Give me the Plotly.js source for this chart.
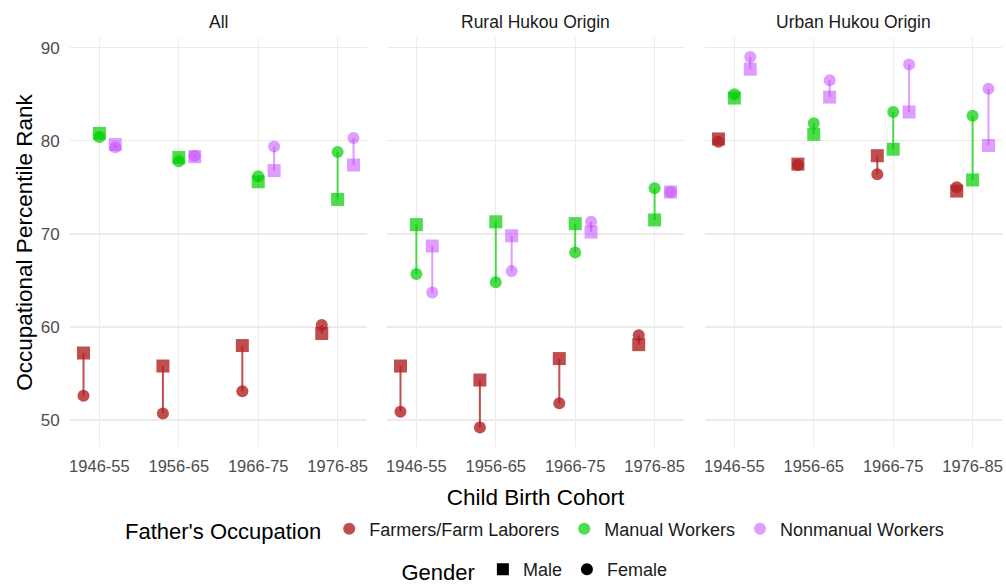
<!DOCTYPE html>
<html>
<head>
<meta charset="utf-8">
<script src="https://cdn.plot.ly/plotly-3.0.1.min.js"></script>
<style>html,body{margin:0;padding:0;background:#fff;}#chart{width:1006px;height:587px;}</style>
</head>
<body>
<div id="chart"></div>
<script>
const cohorts = ['1946-55', '1956-65', '1966-75', '1976-85'];
const panels = ['All', 'Rural Hukou Origin', 'Urban Hukou Origin'];
const occupations = ['Farmers/Farm Laborers', 'Manual Workers', 'Nonmanual Workers'];
const genders = ['Male', 'Female'];

// All
const allFarmersMale      = [57.2, 55.8, 58.0, 59.3];
const allFarmersFemale    = [52.6, 50.7, 53.1, 60.2];
const allManualMale       = [80.8, 78.2, 75.6, 73.7];
const allManualFemale     = [80.4, 77.8, 76.2, 78.8];
const allNonmanualMale    = [79.6, 78.3, 76.8, 77.4];
const allNonmanualFemale  = [79.3, 78.4, 79.4, 80.3];
// Rural Hukou Origin
const ruralFarmersMale     = [55.8, 54.3, 56.6, 58.1];
const ruralFarmersFemale   = [50.9, 49.2, 51.8, 59.1];
const ruralManualMale      = [71.0, 71.3, 71.1, 71.5];
const ruralManualFemale    = [65.7, 64.8, 68.0, 74.9];
const ruralNonmanualMale   = [68.7, 69.8, 70.2, 74.5];
const ruralNonmanualFemale = [63.7, 66.0, 71.3, 74.5];
// Urban Hukou Origin
const urbanFarmersMale     = [80.2, 77.5, 78.4, 74.6];
const urbanFarmersFemale   = [79.9, 77.4, 76.4, 75.0];
const urbanManualMale      = [84.6, 80.7, 79.1, 75.8];
const urbanManualFemale    = [85.0, 81.9, 83.1, 82.7];
const urbanNonmanualMale   = [87.7, 84.7, 83.1, 79.5];
const urbanNonmanualFemale = [89.0, 86.5, 88.2, 85.6];

const panelData = [
  [[allFarmersMale, allFarmersFemale], [allManualMale, allManualFemale], [allNonmanualMale, allNonmanualFemale]],
  [[ruralFarmersMale, ruralFarmersFemale], [ruralManualMale, ruralManualFemale], [ruralNonmanualMale, ruralNonmanualFemale]],
  [[urbanFarmersMale, urbanFarmersFemale], [urbanManualMale, urbanManualFemale], [urbanNonmanualMale, urbanNonmanualFemale]]
];

const colors = ['rgba(178,34,34,0.8)', 'rgba(0,205,0,0.7)', 'rgba(191,62,255,0.5)'];
const dodge = [-0.2, 0, 0.2];
const suffix = ['', '2', '3'];

const traces = [];
panels.forEach((pn, p) => {
  const xa = 'x' + suffix[p], ya = 'y' + suffix[p];
  occupations.forEach((oc, o) => {
    const [male, female] = panelData[p][o];
    const xs = cohorts.map((c, i) => i + 1 + dodge[o]);
    traces.push({type: 'scatter', mode: 'markers', x: xs, y: male, xaxis: xa, yaxis: ya, showlegend: false,
      marker: {symbol: 'square', size: 13, color: colors[o], line: {width: 0}}, hoverinfo: 'skip'});
    traces.push({type: 'scatter', mode: 'markers', x: xs, y: female, xaxis: xa, yaxis: ya, showlegend: false,
      marker: {symbol: 'circle', size: 12, color: colors[o], line: {width: 0}}, hoverinfo: 'skip'});
    const lx = [], ly = [];
    xs.forEach((x, i) => { lx.push(x, x, null); ly.push(male[i], female[i], null); });
    traces.push({type: 'scatter', mode: 'lines', x: lx, y: ly, xaxis: xa, yaxis: ya, showlegend: false,
      line: {color: colors[o], width: 2}, hoverinfo: 'skip'});
  });
});

occupations.forEach((oc, o) => {
  traces.push({type: 'scatter', mode: 'markers', x: [null], y: [null], name: oc, legend: 'legend',
    marker: {symbol: 'circle', size: 12, color: colors[o]}});
});
genders.forEach((g, i) => {
  traces.push({type: 'scatter', mode: 'markers', x: [null], y: [null], name: g, legend: 'legend2',
    marker: {symbol: i === 0 ? 'square' : 'circle', size: 12, color: '#000'}});
});

const font = 'Liberation Sans, Arial, sans-serif';
const domains = [[0, 0.3187], [0.3401, 0.6588], [0.6813, 1]];
const xRange = [0.63, 4.37];
const yRange = [47.1, 91.05];

function xaxis(i) {
  const ax = {
    domain: domains[i], anchor: 'y' + suffix[i], range: xRange,
    tickvals: [1, 2, 3, 4], ticktext: cohorts,
    showgrid: true, gridcolor: '#ebebeb', gridwidth: 1.3, zeroline: false, showline: false,
    ticks: 'outside', ticklen: 4, tickcolor: 'rgba(0,0,0,0)', automargin: false,
    tickfont: {family: font, size: 16.5, color: '#4d4d4d'}, fixedrange: true
  };
  if (i === 1) {
    ax.title = {text: 'Child Birth Cohort', font: {family: font, size: 22.5, color: '#000'}, standoff: 15};
  }
  return ax;
}
function yaxis(i) {
  const ax = {
    domain: [0, 1], anchor: 'x' + suffix[i], range: yRange,
    tickvals: [50, 60, 70, 80, 90],
    showgrid: true, gridcolor: '#ebebeb', gridwidth: 1.3, zeroline: false, showline: false,
    ticks: 'outside', ticklen: 6, tickcolor: 'rgba(0,0,0,0)', automargin: false,
    tickfont: {family: font, size: 17, color: '#4d4d4d'}, fixedrange: true
  };
  if (i === 0) {
    ax.title = {text: 'Occupational Percentile Rank', font: {family: font, size: 22.5, color: '#000'}, standoff: 1};
  } else {
    ax.matches = 'y';
    ax.showticklabels = false;
  }
  return ax;
}

const layout = {
  width: 1006, height: 587,
  margin: {l: 70, r: 4, t: 38, b: 140, autoexpand: false},
  paper_bgcolor: '#fff', plot_bgcolor: '#fff',
  font: {family: font},
  xaxis: xaxis(0), xaxis2: xaxis(1), xaxis3: xaxis(2),
  yaxis: yaxis(0), yaxis2: yaxis(1), yaxis3: yaxis(2),
  annotations: panels.map((pn, p) => ({
    text: pn, xref: 'x' + suffix[p] + ' domain', x: 0.5, yref: 'paper', y: 1,
    xanchor: 'center', yanchor: 'bottom', yshift: 4, showarrow: false,
    font: {family: font, size: 17.5, color: '#1a1a1a'}
  })),
  legend: {
    orientation: 'h', x: 0.5, xanchor: 'center', y: -0.203, yanchor: 'middle',
    title: {text: "Father's Occupation", side: 'left', font: {family: font, size: 22, color: '#000'}},
    font: {family: font, size: 18, color: '#1a1a1a'}, bgcolor: 'rgba(0,0,0,0)'
  },
  legend2: {
    orientation: 'h', x: 0.5, xanchor: 'center', y: -0.302, yanchor: 'middle',
    title: {text: 'Gender', side: 'left', font: {family: font, size: 22, color: '#000'}},
    font: {family: font, size: 18, color: '#1a1a1a'}, bgcolor: 'rgba(0,0,0,0)'
  }
};

Plotly.newPlot('chart', traces, layout, {staticPlot: true, displayModeBar: false});
</script>
</body>
</html>
